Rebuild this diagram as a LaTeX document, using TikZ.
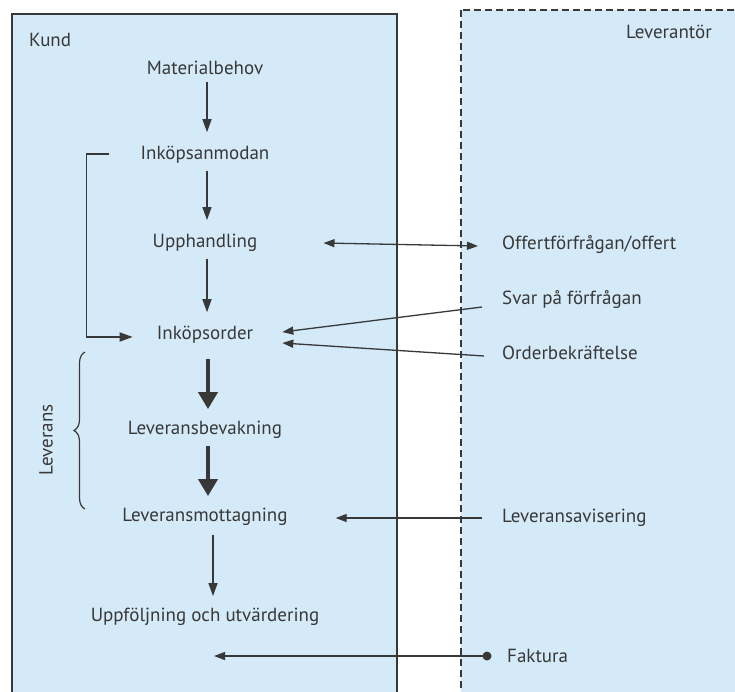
\documentclass[tikz,border=0pt]{standalone}
\usepackage{fontspec}
\setmainfont{PT Sans}
\usetikzlibrary{arrows.meta,decorations.pathreplacing}
\definecolor{panel}{HTML}{D5EAF8}
\definecolor{ink}{HTML}{383838}
\begin{document}
\begin{tikzpicture}[x=1pt,y=-1pt,
  lbl/.style={text=ink,font=\fontsize{19}{22}\selectfont,inner sep=2pt},
  flow/.style={draw=ink,line width=1.4pt,-{Triangle[length=13pt,width=9pt]}},
  bigflow/.style={draw=ink,line width=4pt,-{Triangle[length=17pt,width=19pt]}},
  link/.style={draw=ink,line width=1.3pt},
  linkin/.style={link,-{Triangle[length=11pt,width=8pt]}},
  both/.style={link,{Triangle[length=11pt,width=8pt]}-{Triangle[length=11pt,width=8pt]}},
]
\useasboundingbox (0,0) rectangle (735,691);
\clip (0,0) rectangle (735,691);

% panels
\draw[fill=panel,draw=ink,line width=1.1pt] (12,14) rectangle (397,710);
\draw[fill=panel,draw=ink,line width=1.1pt,dash pattern=on 7pt off 4pt] (461,10) rectangle (750,710);

% panel titles
\node[lbl,anchor=west] (kund) at (27,40) {Kund};
\node[lbl,anchor=east] (lev) at (714,32) {Leverantör};

% customer process
\node[lbl] (mat) at (205,68)  {Materialbehov};
\node[lbl] (ank) at (205,155) {Inköpsanmodan};
\node[lbl] (upp) at (205,243) {Upphandling};
\node[lbl] (ord) at (205,335) {Inköpsorder};
\node[lbl] (bev) at (205,430) {Leveransbevakning};
\node[lbl] (mot) at (205,517) {Leveransmottagning};
\node[lbl] (uf)  at (205,617) {Uppföljning och utvärdering};

% supplier messages
\node[lbl,anchor=west] (off)  at (500,245) {Offertförfrågan/offert};
\node[lbl,anchor=west] (svar) at (500,300) {Svar på förfrågan};
\node[lbl,anchor=west] (obk)  at (500,353) {Orderbekräftelse};
\node[lbl,anchor=west] (avi)  at (500,518) {Leveransavisering};
\node[lbl,anchor=west] (fak)  at (505,656) {Faktura};

% side label
\node[lbl,rotate=90] (leverans) at (46,440) {Leverans};

% main flow
\draw[flow,shorten <=5pt,shorten >=12pt] ([xshift=2pt]mat.south) -- ([xshift=2pt]ank.north);
\draw[flow,shorten <=5pt,shorten >=12pt] ([xshift=2pt]ank.south) -- ([xshift=2pt]upp.north);
\draw[flow,shorten <=5pt,shorten >=12pt] ([xshift=2pt]upp.south) -- ([xshift=2pt]ord.north);
\draw[bigflow,shorten <=13pt,shorten >=10pt] ([xshift=3pt]ord.south) -- ([xshift=3pt]bev.north);
\draw[bigflow,shorten <=5pt,shorten >=10pt] ([xshift=3pt]bev.south) -- ([xshift=3pt]mot.north);
\draw[flow,shorten <=7pt,shorten >=10pt] ([xshift=8pt]mot.south) -- ([xshift=8pt]uf.north);

% loop from requisition straight to purchase order
\draw[flow] ([xshift=-29pt,yshift=1pt]ank.west) -- ++(-23,0) |- ([xshift=-22pt,yshift=-2pt]ord.west);

% delivery brace
\draw[draw=ink,line width=1.2pt,decorate,decoration={brace,amplitude=11pt,mirror}]
  (85,352) -- (85,509);

% messages between customer and supplier
\draw[both] ([xshift=64pt]upp.east) -- ([xshift=-22pt,yshift=-1pt]off.west);
\draw[linkin] ([xshift=-18pt,yshift=-7pt]svar.west) -- ([xshift=27pt,yshift=3pt]ord.east);
\draw[linkin] ([xshift=-16pt,yshift=-3pt]obk.west) -- ([xshift=27pt,yshift=-8pt]ord.east);
\draw[linkin] ([xshift=-18pt]avi.west) -- ([xshift=46pt,yshift=-1pt]mot.east);

% invoice
\coordinate (fakdot) at ([xshift=-18pt]fak.west);
\coordinate (fakend) at (214,656);
\draw[linkin] (fakdot) -- (fakend);
\fill[ink] (fakdot) circle (4.5);
\end{tikzpicture}
\end{document}
